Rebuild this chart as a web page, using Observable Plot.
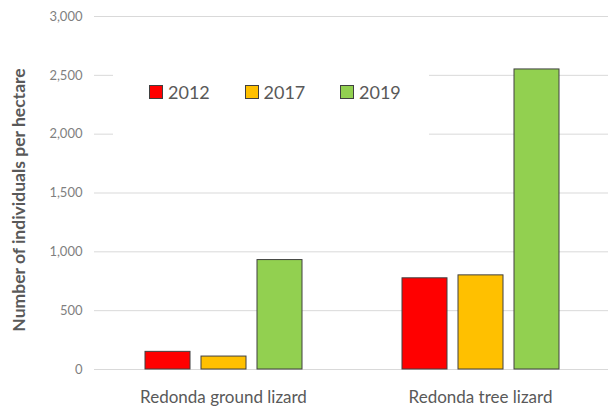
<!DOCTYPE html>
<html>
<head>
<meta charset="utf-8">
<script src="https://cdn.jsdelivr.net/npm/d3@7"></script>
<script src="https://cdn.jsdelivr.net/npm/@observablehq/plot@0.6"></script>
<style>
  html, body { margin: 0; padding: 0; background: #fff; }
  #wrap { position: relative; width: 608px; height: 412px; overflow: hidden; font-family: Lato, "Open Sans", sans-serif; }
  #bg, #fg { position: absolute; left: 0; top: 0; }
  #legend { position: absolute; left: 113px; top: 62px; width: 316px; height: 80px; background: #fff;
            display: flex; align-items: flex-start; padding-left: 36px; padding-top: 19px; box-sizing: border-box; }
  .item { display: flex; align-items: center; width: 95.5px; height: 22px; flex: none; color: #595959; font-size: 18px; line-height: 22px; }
  .sw { width: 12px; height: 12px; border: 1px solid #404040; margin-right: 5px; flex: none; }
</style>
</head>
<body>
<div id="wrap"><div id="bg"></div><div id="fg"></div><div id="legend"></div></div>
<script>
const species = ["Redonda ground lizard", "Redonda tree lizard"];
const years = ["2012", "2017", "2019"];
const groundLizard = [150, 110, 930];
const treeLizard = [775, 800, 2550];
const yearColors = ["#ff0000", "#ffc000", "#92d050"];
const yTicks = [0, 500, 1000, 1500, 2000, 2500, 3000];
const yTitle = "Number of individuals per hectare";

const seriesBySpecies = [groundLizard, treeLizard];
const data = species.flatMap((s, i) => years.map((yr, j) => ({species: s, year: yr, value: seriesBySpecies[i][j]})));

const fmt = d3.format(",");
const common = {
  width: 608, height: 412,
  marginLeft: 94, marginRight: 0, marginTop: 16, marginBottom: 43,
  y: {domain: [0, 3000], axis: null}
};

// background: gridlines, tick labels, y title
const bg = Plot.plot({
  ...common,
  style: {fontFamily: "Lato, 'Open Sans', sans-serif", background: "#fff"},
  marks: [
    Plot.ruleY(yTicks, {y: d => d, stroke: "#d9d9d9", strokeWidth: 1}),
    Plot.text(yTicks, {y: d => d, text: d => fmt(d), frameAnchor: "left", textAnchor: "end", dx: -12,
      fill: "#7f7f7f", fontSize: 13}),
    Plot.text([yTitle], {text: d => d, frameAnchor: "left", textAnchor: "middle", rotate: -90, dx: -75, dy: 7,
      fill: "#595959", fontSize: 17.5, fontWeight: "bold"})
  ]
});
document.getElementById("bg").appendChild(bg);

// foreground: grouped bars and category labels
const fg = Plot.plot({
  ...common,
  style: {fontFamily: "Lato, 'Open Sans', sans-serif", background: "transparent"},
  fx: {domain: species, paddingInner: 0.3, paddingOuter: 0.15, label: null},
  x: {domain: years, padding: 0.2, axis: null},
  color: {domain: years, range: yearColors},
  marks: [
    Plot.barY(data, {fx: "species", x: "year", y: "value", fill: "year", stroke: "#404040", strokeWidth: 1}),
    Plot.axisFx({anchor: "bottom", tickSize: 0, tickPadding: 21, fontSize: 17, fill: "#595959", label: null})
  ]
});
document.getElementById("fg").appendChild(fg);

const legend = d3.select("#legend");
years.forEach((yr, i) => {
  const it = legend.append("div").attr("class", "item");
  it.append("div").attr("class", "sw").style("background", yearColors[i]);
  it.append("span").text(yr);
});
</script>
</body>
</html>
